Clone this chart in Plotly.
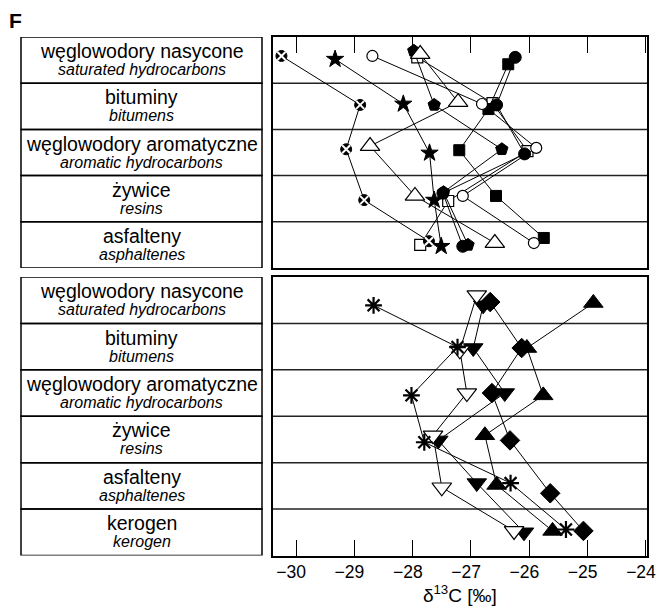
import plotly.graph_objects as go

W, H = 657, 614

# ---------------- data ----------------
top_labels_pl = ["węglowodory nasycone", "bituminy", "węglowodory aromatyczne", "żywice", "asfalteny"]
top_labels_en = ["saturated hydrocarbons", "bitumens", "aromatic hydrocarbons", "resins", "asphaltenes"]
bot_labels_pl = top_labels_pl + ["kerogen"]
bot_labels_en = top_labels_en + ["kerogen"]

# top panel series: x = d13C, y = row position (1 = first row)
crossed_x = [-30.25, -28.90, -29.14, -28.83, -27.72]
crossed_y = [0.91, 1.97, 2.93, 4.03, 4.92]
star_x = [-29.33, -28.16, -27.71, -27.63, -27.51]
star_y = [0.98, 1.95, 3.01, 4.03, 5.03]
ocircle_x = [-28.69, -26.81, -25.88, -27.14, -25.92]
ocircle_y = [0.91, 1.95, 2.90, 3.94, 4.96]
otri_x = [-27.87, -27.22, -28.73, -27.96, -26.59]
otri_y = [0.87, 1.91, 2.86, 3.94, 4.96]
pent_x = [-27.98, -27.63, -26.47, -27.47, -27.05]
pent_y = [0.80, 1.97, 2.93, 3.86, 5.00]
fcircle_x = [-26.24, -26.56, -26.08, -27.48, -27.14]
fcircle_y = [0.94, 1.97, 3.03, 3.88, 5.03]
fsquare_x = [-26.36, -26.70, -27.20, -26.57, -25.75]
fsquare_y = [1.09, 2.06, 2.95, 3.94, 4.85]
osquare_x = [-27.92, -26.63, -26.03, -27.39, -27.87]
osquare_y = [0.94, 1.93, 2.97, 4.05, 5.00]

# bottom panel series
aster_x = [-28.67, -27.23, -28.02, -27.80, -26.32, -25.37]
aster_y = [1.11, 2.01, 3.05, 4.06, 4.94, 5.94]
odown_x = [-26.90, -27.19, -27.07, -27.65, -27.50, -26.26]
odown_y = [0.89, 2.08, 3.00, 3.91, 5.03, 5.97]
fdown_x = [-26.79, -26.96, -26.42, -27.56, -26.90, -26.09]
fdown_y = [1.11, 2.03, 3.00, 4.02, 4.94, 6.00]
diam_x = [-26.67, -26.13, -26.64, -26.33, -25.64, -25.07]
diam_y = [1.04, 2.03, 3.00, 4.02, 5.16, 5.97]
fup_x = [-24.90, -26.04, -25.76, -26.76, -26.56, -25.60]
fup_y = [1.06, 2.03, 3.05, 3.91, 4.98, 5.97]

tick_vals = [-30, -29, -28, -27, -26, -25, -24]
tick_text = ["\u2212%d\u2007" % abs(v) for v in tick_vals]

# ---------------- figure ----------------
fig = go.Figure()
LINE = dict(color="black", width=1)


def series(x, y, xa, ya, symbol, size, fill, lcolor="black", lwidth=1, mode="lines+markers"):
    fig.add_trace(go.Scatter(
        x=x, y=y, xaxis=xa, yaxis=ya, mode=mode, line=LINE,
        marker=dict(symbol=symbol, size=size, color=fill,
                    line=dict(color=lcolor, width=lwidth)),
        showlegend=False, hoverinfo="skip"))


# top panel
series(osquare_x, osquare_y, "x", "y", "square", 11, "white", lwidth=1.2)
series(fsquare_x, fsquare_y, "x", "y", "square", 11, "black")
series(fcircle_x, fcircle_y, "x", "y", "circle", 12, "black")
series(pent_x, pent_y, "x", "y", "pentagon", 13, "black")
series(ocircle_x, ocircle_y, "x", "y", "circle", 11, "white", lwidth=1.2)
series(otri_x, otri_y, "x", "y", "triangle-up", 17, "white", lwidth=1.2)
series(star_x, star_y, "x", "y", "star", 13, "black")
series(crossed_x, crossed_y, "x", "y", "circle", 11, "black")
series(crossed_x, crossed_y, "x", "y", "x-thin", 8, "white", lcolor="white", lwidth=2, mode="markers")

# bottom panel
series(fup_x, fup_y, "x2", "y2", "triangle-up", 17, "black")
series(diam_x, diam_y, "x2", "y2", "diamond", 15, "black")
series(fdown_x, fdown_y, "x2", "y2", "triangle-down", 17, "black")
series(odown_x, odown_y, "x2", "y2", "triangle-down", 17, "white", lwidth=1.2)
series(aster_x, aster_y, "x2", "y2", "asterisk", 14, "black", lwidth=2.2)

# ---------------- layout geometry ----------------
xl, xr = 272.7 / W, 647 / W
top_dom = [1 - 268 / H, 1 - 37 / H]
bot_dom = [1 - 555.5 / H, 1 - 277 / H]
box_l, box_r = 21 / W, 262 / W

axis_common = dict(showgrid=False, zeroline=False, showline=True, mirror=True,
                   linecolor="black", linewidth=1.5, layer="below traces",
                   automargin=False)

fig.update_layout(
    width=W, height=H, margin=dict(l=0, r=0, t=0, b=0, autoexpand=False),
    paper_bgcolor="white", plot_bgcolor="white",
    font=dict(family="Liberation Sans, Arial, sans-serif", color="black"),
    xaxis=dict(domain=[xl, xr], range=[-30.40, -23.98], anchor="y", side="top",
               tickvals=tick_vals, ticks="inside", ticklen=16, tickcolor="black",
               showticklabels=False, **axis_common),
    yaxis=dict(domain=top_dom, range=[5.5, 0.5], anchor="x", showticklabels=False,
               ticks="", **axis_common),
    xaxis2=dict(domain=[xl, xr], range=[-30.40, -23.98], anchor="y2",
                tickvals=tick_vals, ticktext=tick_text, ticks="inside", ticklen=16,
                tickcolor="black", tickfont=dict(size=17.5), ticklabelstandoff=0,
                ticklabeloverflow="allow",
                title=dict(text="δ<sup>13</sup>C [‰]", font=dict(size=19), standoff=4),
                **axis_common),
    yaxis2=dict(domain=bot_dom, range=[6.5, 0.5], anchor="x2", showticklabels=False,
                ticks="", **axis_common),
)

shapes = []
annotations = []


def panel(labels_pl, labels_en, yref, xref):
    n = len(labels_pl)
    for i in range(n):
        r = i + 1
        shapes.append(dict(type="rect", xref="paper", yref=yref,
                           x0=box_l, x1=box_r, y0=r - 0.5, y1=r + 0.5,
                           line=dict(color="black", width=1.5), layer="below"))
        if i > 0:
            shapes.append(dict(type="line", xref=xref + " domain", yref=yref,
                               x0=0, x1=1, y0=r - 0.5, y1=r - 0.5,
                               line=dict(color="#222", width=1.5), layer="below"))
        annotations.append(dict(xref="paper", yref=yref, x=(box_l + box_r) / 2, y=r,
                                yshift=9, text=labels_pl[i], showarrow=False,
                                font=dict(size=19.5), xanchor="center", yanchor="middle"))
        annotations.append(dict(xref="paper", yref=yref, x=(box_l + box_r) / 2, y=r,
                                yshift=-9.5, text="<i>" + labels_en[i] + "</i>", showarrow=False,
                                font=dict(size=16), xanchor="center", yanchor="middle"))


panel(top_labels_pl, top_labels_en, "y", "x")
panel(bot_labels_pl, bot_labels_en, "y2", "x2")

annotations.append(dict(xref="paper", yref="paper", x=15 / W, y=1 - 20 / H, text="<b>F</b>",
                        showarrow=False, font=dict(size=21), xanchor="center", yanchor="middle"))

fig.update_layout(shapes=shapes, annotations=annotations)
fig.write_html("out.html")
